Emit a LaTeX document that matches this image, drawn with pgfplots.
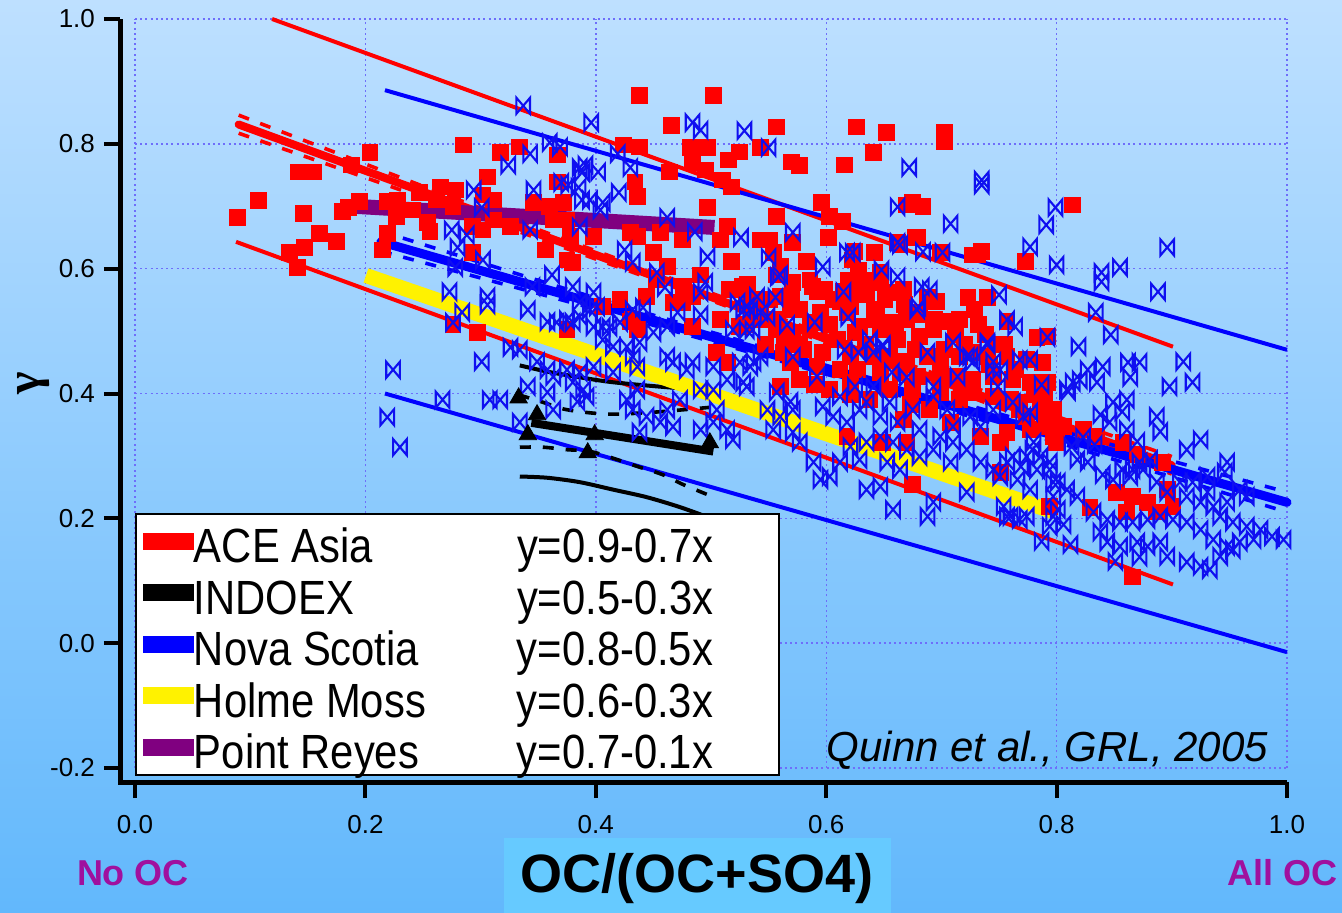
\documentclass[border=0pt]{standalone}
\usepackage{pgfplots}
\pgfplotsset{compat=1.18}
\usepackage{fontspec}
\setmainfont{Liberation Sans}
\newfontfamily\narrowfont[FakeStretch=0.87]{Liberation Sans}
\newfontfamily\gammafont{Liberation Serif}
\definecolor{bgtop}{RGB}{190,224,255}
\definecolor{bgbot}{RGB}{98,184,252}
\definecolor{gridc}{RGB}{110,110,250}
\definecolor{bowc}{RGB}{15,15,240}
\definecolor{ocpurple}{RGB}{160,16,158}
\definecolor{labbox}{RGB}{102,202,255}
\definecolor{preyes}{RGB}{128,0,128}
\pgfdeclareplotmark{bowtie}{%
 \pgfpathmoveto{\pgfqpoint{-0.85\pgfplotmarksize}{\pgfplotmarksize}}%
 \pgfpathlineto{\pgfqpoint{0.85\pgfplotmarksize}{-\pgfplotmarksize}}%
 \pgfpathlineto{\pgfqpoint{0.85\pgfplotmarksize}{\pgfplotmarksize}}%
 \pgfpathlineto{\pgfqpoint{-0.85\pgfplotmarksize}{-\pgfplotmarksize}}%
 \pgfpathclose
 \pgfusepathqstroke}
\pgfdeclareplotmark{redsq}{%
 \pgfpathrectangle{\pgfqpoint{-\pgfplotmarksize}{-\pgfplotmarksize}}{\pgfqpoint{2\pgfplotmarksize}{2\pgfplotmarksize}}%
 \pgfusepathqfill}
\newcommand{\legrow}[2]{\makebox[161.5pt][l]{#1}\makebox[127.5pt][l]{#2}}
\begin{document}
\begin{tikzpicture}
\shade[top color=bgtop, bottom color=bgbot] (0pt,0pt) rectangle (671pt,456pt);
\useasboundingbox (0pt,0pt) rectangle (671pt,456pt);
\begin{axis}[
  at={(67.5pt,72pt)}, anchor=south west,
  scale only axis, width=576pt, height=374.5pt,
  xmin=0, xmax=1, ymin=-0.2, ymax=1,
  axis lines*=left,
  axis x line shift=7pt, axis y line shift=7.5pt,
  axis line style={line width=2.5pt, black},
  xtick={0,0.2,0.4,0.6,0.8,1}, ytick={-0.2,0,0.2,0.4,0.6,0.8,1},
  tick align=outside, major tick length=8pt,
  tick style={line width=2pt, black},
  grid=major, grid style={gridc, line width=0.7pt, dash pattern=on 1pt off 1.6pt},
  /pgf/number format/.cd, fixed, fixed zerofill, precision=1, assume math mode=true,
  /pgfplots/.cd,
  tick label style={font=\fontsize{13}{15}\selectfont},
  xticklabel style={yshift=-5pt},
  yticklabel style={xshift=-1pt},
  xlabel={\raisebox{-3.5pt}{OC/(OC+SO4)}},
  xlabel style={at={(axis description cs:0.488,0)}, anchor=north, yshift=-35pt,
    font=\bfseries\fontsize{27}{30}\selectfont, fill=labbox,
    minimum width=193.5pt, minimum height=40pt, inner sep=0pt},
  clip=false,
  legend style={at={(axis description cs:0,0)}, anchor=south west, yshift=-4pt,
    fill=white, draw=black, line width=1pt, inner xsep=3.5pt, inner ysep=1pt,
    font=\narrowfont\fontsize{24}{26}\selectfont, row sep=0pt, column sep=0pt,
    nodes={inner sep=0pt, text height=23.5pt, text depth=2.25pt}},
  legend cell align=left,
  legend image code/.code={\fill[#1] (0pt,-3.75pt) rectangle (24.5pt,3.75pt);},
]
% ACE Asia data
\addplot[forget plot, red, only marks, mark=redsq, mark size=4.2pt] table {
x y
0.089 0.682
0.107 0.709
0.142 0.755
0.155 0.755
0.146 0.688
0.160 0.656
0.175 0.643
0.134 0.626
0.141 0.602
0.147 0.634
0.180 0.691
0.185 0.698
0.195 0.707
0.204 0.786
0.188 0.766
0.219 0.707
0.228 0.710
0.219 0.656
0.215 0.630
0.227 0.683
0.241 0.694
0.254 0.674
0.256 0.659
0.265 0.731
0.278 0.726
0.285 0.798
0.306 0.747
0.317 0.786
0.334 0.795
0.302 0.718
0.311 0.710
0.311 0.678
0.302 0.662
0.293 0.626
0.346 0.706
0.360 0.699
0.367 0.739
0.372 0.706
0.367 0.782
0.356 0.630
0.380 0.610
0.378 0.651
0.276 0.510
0.297 0.498
0.363 0.678
0.293 0.667
0.326 0.667
0.262 0.710
0.276 0.699
0.247 0.722
0.438 0.878
0.502 0.878
0.466 0.830
0.557 0.827
0.626 0.827
0.652 0.818
0.641 0.786
0.616 0.766
0.570 0.771
0.577 0.765
0.482 0.794
0.497 0.794
0.525 0.787
0.515 0.774
0.543 0.794
0.424 0.798
0.438 0.795
0.484 0.770
0.464 0.755
0.495 0.758
0.510 0.742
0.518 0.731
0.434 0.739
0.436 0.715
0.497 0.698
0.557 0.683
0.596 0.706
0.603 0.683
0.614 0.675
0.602 0.650
0.543 0.646
0.551 0.646
0.571 0.642
0.514 0.667
0.508 0.646
0.475 0.646
0.456 0.658
0.430 0.658
0.398 0.651
0.375 0.678
0.375 0.614
0.436 0.651
0.450 0.626
0.462 0.603
0.453 0.582
0.476 0.571
0.491 0.590
0.518 0.611
0.527 0.571
0.554 0.626
0.560 0.603
0.571 0.578
0.583 0.611
0.588 0.571
0.570 0.555
0.642 0.626
0.670 0.702
0.662 0.642
0.623 0.614
0.629 0.582
0.647 0.594
0.658 0.562
0.667 0.566
0.673 0.530
0.644 0.530
0.621 0.539
0.606 0.550
0.592 0.514
0.554 0.518
0.543 0.530
0.531 0.555
0.516 0.566
0.484 0.555
0.475 0.546
0.444 0.555
0.421 0.550
0.406 0.539
0.432 0.518
0.484 0.507
0.508 0.518
0.525 0.507
0.629 0.507
0.658 0.514
0.677 0.650
0.735 0.627
0.727 0.622
0.773 0.611
0.625 0.627
0.557 0.590
0.628 0.598
0.619 0.582
0.647 0.578
0.531 0.570
0.537 0.539
0.592 0.563
0.612 0.547
0.635 0.558
0.688 0.554
0.696 0.547
0.723 0.554
0.740 0.554
0.705 0.515
0.732 0.510
0.757 0.515
0.783 0.490
0.792 0.491
0.577 0.534
0.595 0.530
0.618 0.530
0.642 0.534
0.670 0.518
0.557 0.502
0.571 0.498
0.610 0.486
0.625 0.498
0.647 0.502
0.662 0.486
0.681 0.491
0.693 0.502
0.563 0.466
0.580 0.470
0.597 0.466
0.621 0.459
0.641 0.459
0.655 0.459
0.670 0.451
0.688 0.459
0.699 0.450
0.716 0.459
0.727 0.466
0.740 0.459
0.757 0.459
0.774 0.454
0.788 0.450
0.569 0.450
0.592 0.443
0.612 0.438
0.627 0.438
0.647 0.434
0.664 0.434
0.679 0.427
0.699 0.422
0.714 0.427
0.727 0.422
0.745 0.427
0.762 0.422
0.777 0.418
0.792 0.418
0.560 0.411
0.621 0.418
0.655 0.406
0.675 0.406
0.699 0.402
0.723 0.402
0.745 0.395
0.768 0.386
0.786 0.379
0.797 0.374
0.774 0.363
0.792 0.347
0.797 0.331
0.757 0.338
0.734 0.331
0.751 0.322
0.708 0.354
0.667 0.358
0.670 0.322
0.649 0.322
0.618 0.331
0.751 0.274
0.675 0.254
0.794 0.219
0.615 0.563
0.560 0.555
0.760 0.390
0.768 0.374
0.800 0.322
0.806 0.347
0.823 0.342
0.835 0.331
0.858 0.322
0.870 0.302
0.892 0.290
0.852 0.242
0.866 0.235
0.879 0.226
0.896 0.246
0.901 0.219
0.861 0.210
0.887 0.210
0.829 0.218
0.866 0.106
0.703 0.818
0.703 0.803
0.675 0.706
0.684 0.700
0.679 0.650
0.664 0.638
0.731 0.622
0.814 0.702
0.699 0.626
0.430 0.515
0.436 0.502
0.505 0.466
0.514 0.450
0.531 0.510
0.467 0.546
0.375 0.502
0.531 0.550
0.532 0.574
0.541 0.550
0.564 0.486
0.577 0.478
0.547 0.478
0.586 0.582
0.599 0.566
0.616 0.550
0.629 0.566
0.638 0.582
0.651 0.550
0.668 0.542
0.681 0.526
0.694 0.518
0.712 0.494
0.720 0.478
0.703 0.470
0.738 0.494
0.747 0.478
0.755 0.478
0.742 0.446
0.764 0.438
0.781 0.398
0.790 0.390
0.777 0.342
0.716 0.390
0.690 0.374
0.673 0.382
0.638 0.390
0.621 0.398
0.603 0.406
0.590 0.414
0.577 0.422
0.642 0.518
0.660 0.494
0.677 0.470
0.634 0.478
0.603 0.510
0.586 0.510
0.569 0.534
0.551 0.550
0.543 0.518
0.716 0.518
0.729 0.534
};
% ACE Asia fit, confidence and prediction bands
\addplot[forget plot, red, line width=2pt] coordinates {(0.119,1.0) (0.901,0.475)};
\addplot[forget plot, red, line width=2pt] coordinates {(0.0877,0.643) (0.901,0.094)};
\addplot[forget plot, red, line width=1.8pt, dash pattern=on 5.5pt off 6pt, smooth] coordinates {(0.09,0.846) (0.3,0.697) (0.5,0.561) (0.7,0.428) (0.9,0.299)};
\addplot[forget plot, red, line width=1.8pt, dash pattern=on 5.5pt off 6pt, smooth] coordinates {(0.09,0.817) (0.3,0.681) (0.5,0.549) (0.7,0.412) (0.9,0.271)};
\addplot[forget plot, red, line width=4pt, line cap=round] coordinates {(0.09,0.831) (0.9,0.285)};
% Point Reyes fit
\addplot[forget plot, preyes, line width=7.5pt] coordinates {(0.19,0.700) (0.503,0.666)};
% Nova Scotia data
\addplot[forget plot, only marks, mark=bowtie, mark size=4pt, bowc, mark options={line width=1.05pt}] table {
x y
0.337 0.861
0.396 0.834
0.484 0.834
0.491 0.822
0.529 0.821
0.550 0.794
0.360 0.802
0.369 0.795
0.343 0.784
0.324 0.766
0.294 0.726
0.346 0.726
0.370 0.738
0.391 0.766
0.402 0.755
0.388 0.754
0.419 0.784
0.430 0.762
0.420 0.722
0.385 0.730
0.388 0.710
0.395 0.710
0.404 0.694
0.301 0.698
0.275 0.662
0.288 0.654
0.280 0.634
0.302 0.614
0.278 0.602
0.343 0.662
0.571 0.658
0.526 0.650
0.462 0.682
0.486 0.659
0.497 0.619
0.550 0.618
0.560 0.590
0.597 0.603
0.618 0.626
0.623 0.626
0.648 0.598
0.662 0.642
0.662 0.699
0.425 0.630
0.432 0.610
0.362 0.590
0.380 0.571
0.398 0.562
0.453 0.594
0.460 0.570
0.495 0.578
0.273 0.563
0.306 0.555
0.345 0.571
0.672 0.762
0.735 0.742
0.735 0.734
0.708 0.672
0.799 0.698
0.791 0.670
0.777 0.635
0.800 0.606
0.896 0.634
0.839 0.594
0.855 0.602
0.839 0.579
0.888 0.563
0.834 0.530
0.847 0.494
0.819 0.475
0.910 0.451
0.918 0.418
0.750 0.558
0.757 0.518
0.764 0.507
0.740 0.482
0.710 0.482
0.688 0.466
0.792 0.490
0.664 0.638
0.684 0.627
0.701 0.626
0.662 0.587
0.683 0.571
0.690 0.566
0.680 0.539
0.649 0.475
0.745 0.438
0.768 0.454
0.777 0.454
0.809 0.406
0.820 0.422
0.835 0.418
0.840 0.443
0.862 0.450
0.872 0.450
0.864 0.426
0.898 0.411
0.722 0.459
0.749 0.411
0.787 0.414
0.827 0.438
0.810 0.403
0.814 0.418
0.849 0.386
0.861 0.390
0.857 0.371
0.887 0.363
0.890 0.339
0.838 0.366
0.846 0.354
0.861 0.342
0.870 0.323
0.833 0.318
0.823 0.330
0.813 0.315
0.777 0.370
0.779 0.310
0.762 0.299
0.786 0.299
0.769 0.283
0.751 0.267
0.766 0.262
0.818 0.294
0.827 0.290
0.840 0.270
0.849 0.262
0.864 0.267
0.875 0.278
0.887 0.258
0.896 0.242
0.907 0.258
0.918 0.258
0.931 0.242
0.936 0.219
0.925 0.226
0.913 0.235
0.946 0.274
0.959 0.246
0.965 0.235
0.948 0.226
0.942 0.203
0.953 0.194
0.965 0.187
0.977 0.182
0.987 0.171
0.997 0.166
0.971 0.166
0.959 0.162
0.948 0.155
0.936 0.166
0.925 0.182
0.913 0.194
0.901 0.198
0.890 0.203
0.879 0.198
0.866 0.194
0.855 0.194
0.844 0.198
0.832 0.210
0.818 0.235
0.809 0.246
0.797 0.235
0.801 0.214
0.806 0.190
0.794 0.187
0.787 0.163
0.812 0.158
0.838 0.178
0.844 0.162
0.855 0.155
0.870 0.162
0.879 0.155
0.890 0.162
0.896 0.139
0.913 0.130
0.925 0.123
0.933 0.118
0.942 0.139
0.953 0.150
0.872 0.138
0.851 0.131
0.760 0.203
0.768 0.198
0.754 0.219
0.777 0.246
0.783 0.278
0.794 0.290
0.801 0.258
0.931 0.267
0.948 0.290
0.913 0.310
0.925 0.326
0.881 0.294
0.872 0.290
0.866 0.278
0.857 0.278
0.558 0.587
0.615 0.563
0.556 0.554
0.531 0.539
0.549 0.523
0.566 0.510
0.590 0.514
0.619 0.522
0.638 0.486
0.649 0.478
0.616 0.470
0.628 0.466
0.641 0.466
0.725 0.459
0.740 0.478
0.745 0.451
0.751 0.438
0.714 0.427
0.727 0.450
0.693 0.411
0.670 0.426
0.657 0.434
0.641 0.411
0.625 0.411
0.592 0.427
0.571 0.459
0.543 0.459
0.531 0.502
0.528 0.534
0.537 0.450
0.525 0.450
0.531 0.411
0.557 0.402
0.569 0.387
0.560 0.363
0.571 0.374
0.597 0.379
0.612 0.395
0.606 0.363
0.618 0.354
0.629 0.374
0.635 0.386
0.647 0.363
0.655 0.386
0.662 0.354
0.675 0.374
0.681 0.342
0.693 0.395
0.705 0.374
0.710 0.347
0.725 0.363
0.734 0.347
0.745 0.374
0.762 0.386
0.771 0.363
0.780 0.322
0.794 0.278
0.774 0.299
0.757 0.290
0.745 0.278
0.734 0.290
0.722 0.310
0.710 0.322
0.699 0.331
0.693 0.310
0.681 0.299
0.670 0.310
0.658 0.322
0.647 0.331
0.635 0.322
0.629 0.294
0.621 0.315
0.612 0.290
0.603 0.267
0.589 0.290
0.595 0.262
0.577 0.322
0.571 0.338
0.554 0.342
0.549 0.374
0.647 0.251
0.635 0.246
0.693 0.226
0.688 0.203
0.658 0.214
0.722 0.242
0.757 0.203
0.774 0.203
0.797 0.203
0.797 0.258
0.653 0.290
0.664 0.278
0.708 0.290
0.306 0.542
0.341 0.534
0.358 0.515
0.375 0.518
0.386 0.523
0.395 0.534
0.386 0.546
0.401 0.539
0.398 0.507
0.412 0.506
0.421 0.514
0.432 0.534
0.406 0.486
0.415 0.475
0.427 0.475
0.438 0.482
0.450 0.498
0.462 0.507
0.471 0.530
0.491 0.526
0.523 0.546
0.534 0.534
0.326 0.474
0.334 0.470
0.301 0.451
0.349 0.451
0.358 0.438
0.363 0.427
0.375 0.438
0.380 0.418
0.386 0.434
0.389 0.406
0.398 0.443
0.415 0.434
0.432 0.459
0.436 0.443
0.462 0.459
0.467 0.450
0.479 0.438
0.484 0.450
0.502 0.443
0.514 0.422
0.528 0.418
0.534 0.443
0.502 0.406
0.491 0.406
0.473 0.390
0.462 0.374
0.444 0.363
0.436 0.406
0.427 0.390
0.432 0.374
0.392 0.395
0.384 0.387
0.363 0.374
0.341 0.411
0.317 0.390
0.334 0.354
0.358 0.402
0.456 0.354
0.467 0.347
0.491 0.342
0.502 0.354
0.514 0.342
0.519 0.326
0.505 0.374
0.438 0.338
0.267 0.390
0.224 0.438
0.219 0.362
0.230 0.314
0.308 0.390
0.540 0.555
0.491 0.562
0.386 0.762
0.376 0.734
0.406 0.706
0.386 0.667
0.441 0.538
0.380 0.514
0.406 0.507
0.519 0.502
0.536 0.502
0.679 0.534
0.543 0.530
0.366 0.514
0.276 0.514
0.284 0.530
};
% Nova Scotia fit, confidence and prediction bands
\addplot[forget plot, blue, line width=2pt] coordinates {(0.217,0.886) (1.0,0.470)};
\addplot[forget plot, blue, line width=2pt] coordinates {(0.217,0.400) (1.0,-0.0144)};
\addplot[forget plot, blue, line width=1.8pt, dash pattern=on 5.5pt off 6pt, smooth] coordinates {(0.2135,0.660) (0.4,0.553) (0.6,0.445) (0.8,0.342) (1.0,0.242)};
\addplot[forget plot, blue, line width=1.8pt, dash pattern=on 5.5pt off 6pt, smooth] coordinates {(0.2135,0.628) (0.4,0.535) (0.6,0.431) (0.8,0.322) (1.0,0.210)};
\addplot[forget plot, blue, line width=4.5pt, line cap=round] coordinates {(0.2135,0.643) (1.0,0.2256)};
% INDOEX
\addplot[forget plot, black, line width=2pt, smooth] coordinates {(0.334,0.445) (0.358,0.435) (0.386,0.426) (0.415,0.418) (0.462,0.410) (0.50,0.405)};
\addplot[forget plot, black, line width=2pt, smooth] coordinates {(0.334,0.267) (0.358,0.265) (0.386,0.258) (0.415,0.246) (0.444,0.234) (0.473,0.218) (0.50,0.200)};
\addplot[forget plot, black, line width=1.8pt, dash pattern=on 5.5pt off 6pt, smooth] coordinates {(0.333,0.398) (0.354,0.386) (0.375,0.374) (0.41,0.367) (0.45,0.370) (0.50,0.378)};
\addplot[forget plot, black, line width=1.8pt, dash pattern=on 5.5pt off 6pt, smooth] coordinates {(0.334,0.314) (0.354,0.314) (0.375,0.310) (0.398,0.306) (0.438,0.282) (0.458,0.270) (0.476,0.254) (0.497,0.238)};
\addplot[forget plot, black, line width=4pt] coordinates {(0.344,0.353) (0.502,0.307)};
\addplot[forget plot, only marks, mark=triangle*, mark size=5pt, black] table {
x y
0.333 0.393
0.349 0.366
0.341 0.334
0.399 0.334
0.393 0.305
0.499 0.321
};
% Holme Moss fit
\addplot[forget plot, yellow, line width=7.5pt] coordinates {(0.2005,0.589) (0.7986,0.2096)};
% legend
\addlegendimage{red}
\addlegendentry{\legrow{ACE Asia}{y=0.9-0.7x}}
\addlegendimage{black}
\addlegendentry{\legrow{INDOEX}{y=0.5-0.3x}}
\addlegendimage{blue}
\addlegendentry{\legrow{Nova Scotia}{y=0.8-0.5x}}
\addlegendimage{yellow}
\addlegendentry{\legrow{Holme Moss}{y=0.6-0.3x}}
\addlegendimage{preyes}
\addlegendentry{\legrow{Point Reyes}{y=0.7-0.1x}}
\node[anchor=base east, font=\itshape\fontsize{21}{24}\selectfont] at (axis cs:0.9896,-0.189) {Quinn et al., GRL, 2005};
\end{axis}
\draw[black, line width=2.5pt] (60pt,72pt) -- (60pt,65pt) -- (67.5pt,65pt);
\node[rotate=90, font=\gammafont\bfseries\fontsize{24}{26}\selectfont] at (17pt,264.5pt) {γ};
\node[font=\bfseries\fontsize{18}{20}\selectfont, text=ocpurple] at (66.5pt,19.5pt) {No OC};
\node[font=\bfseries\fontsize{18}{20}\selectfont, text=ocpurple] at (641pt,19.5pt) {All OC};
\end{tikzpicture}
\end{document}
